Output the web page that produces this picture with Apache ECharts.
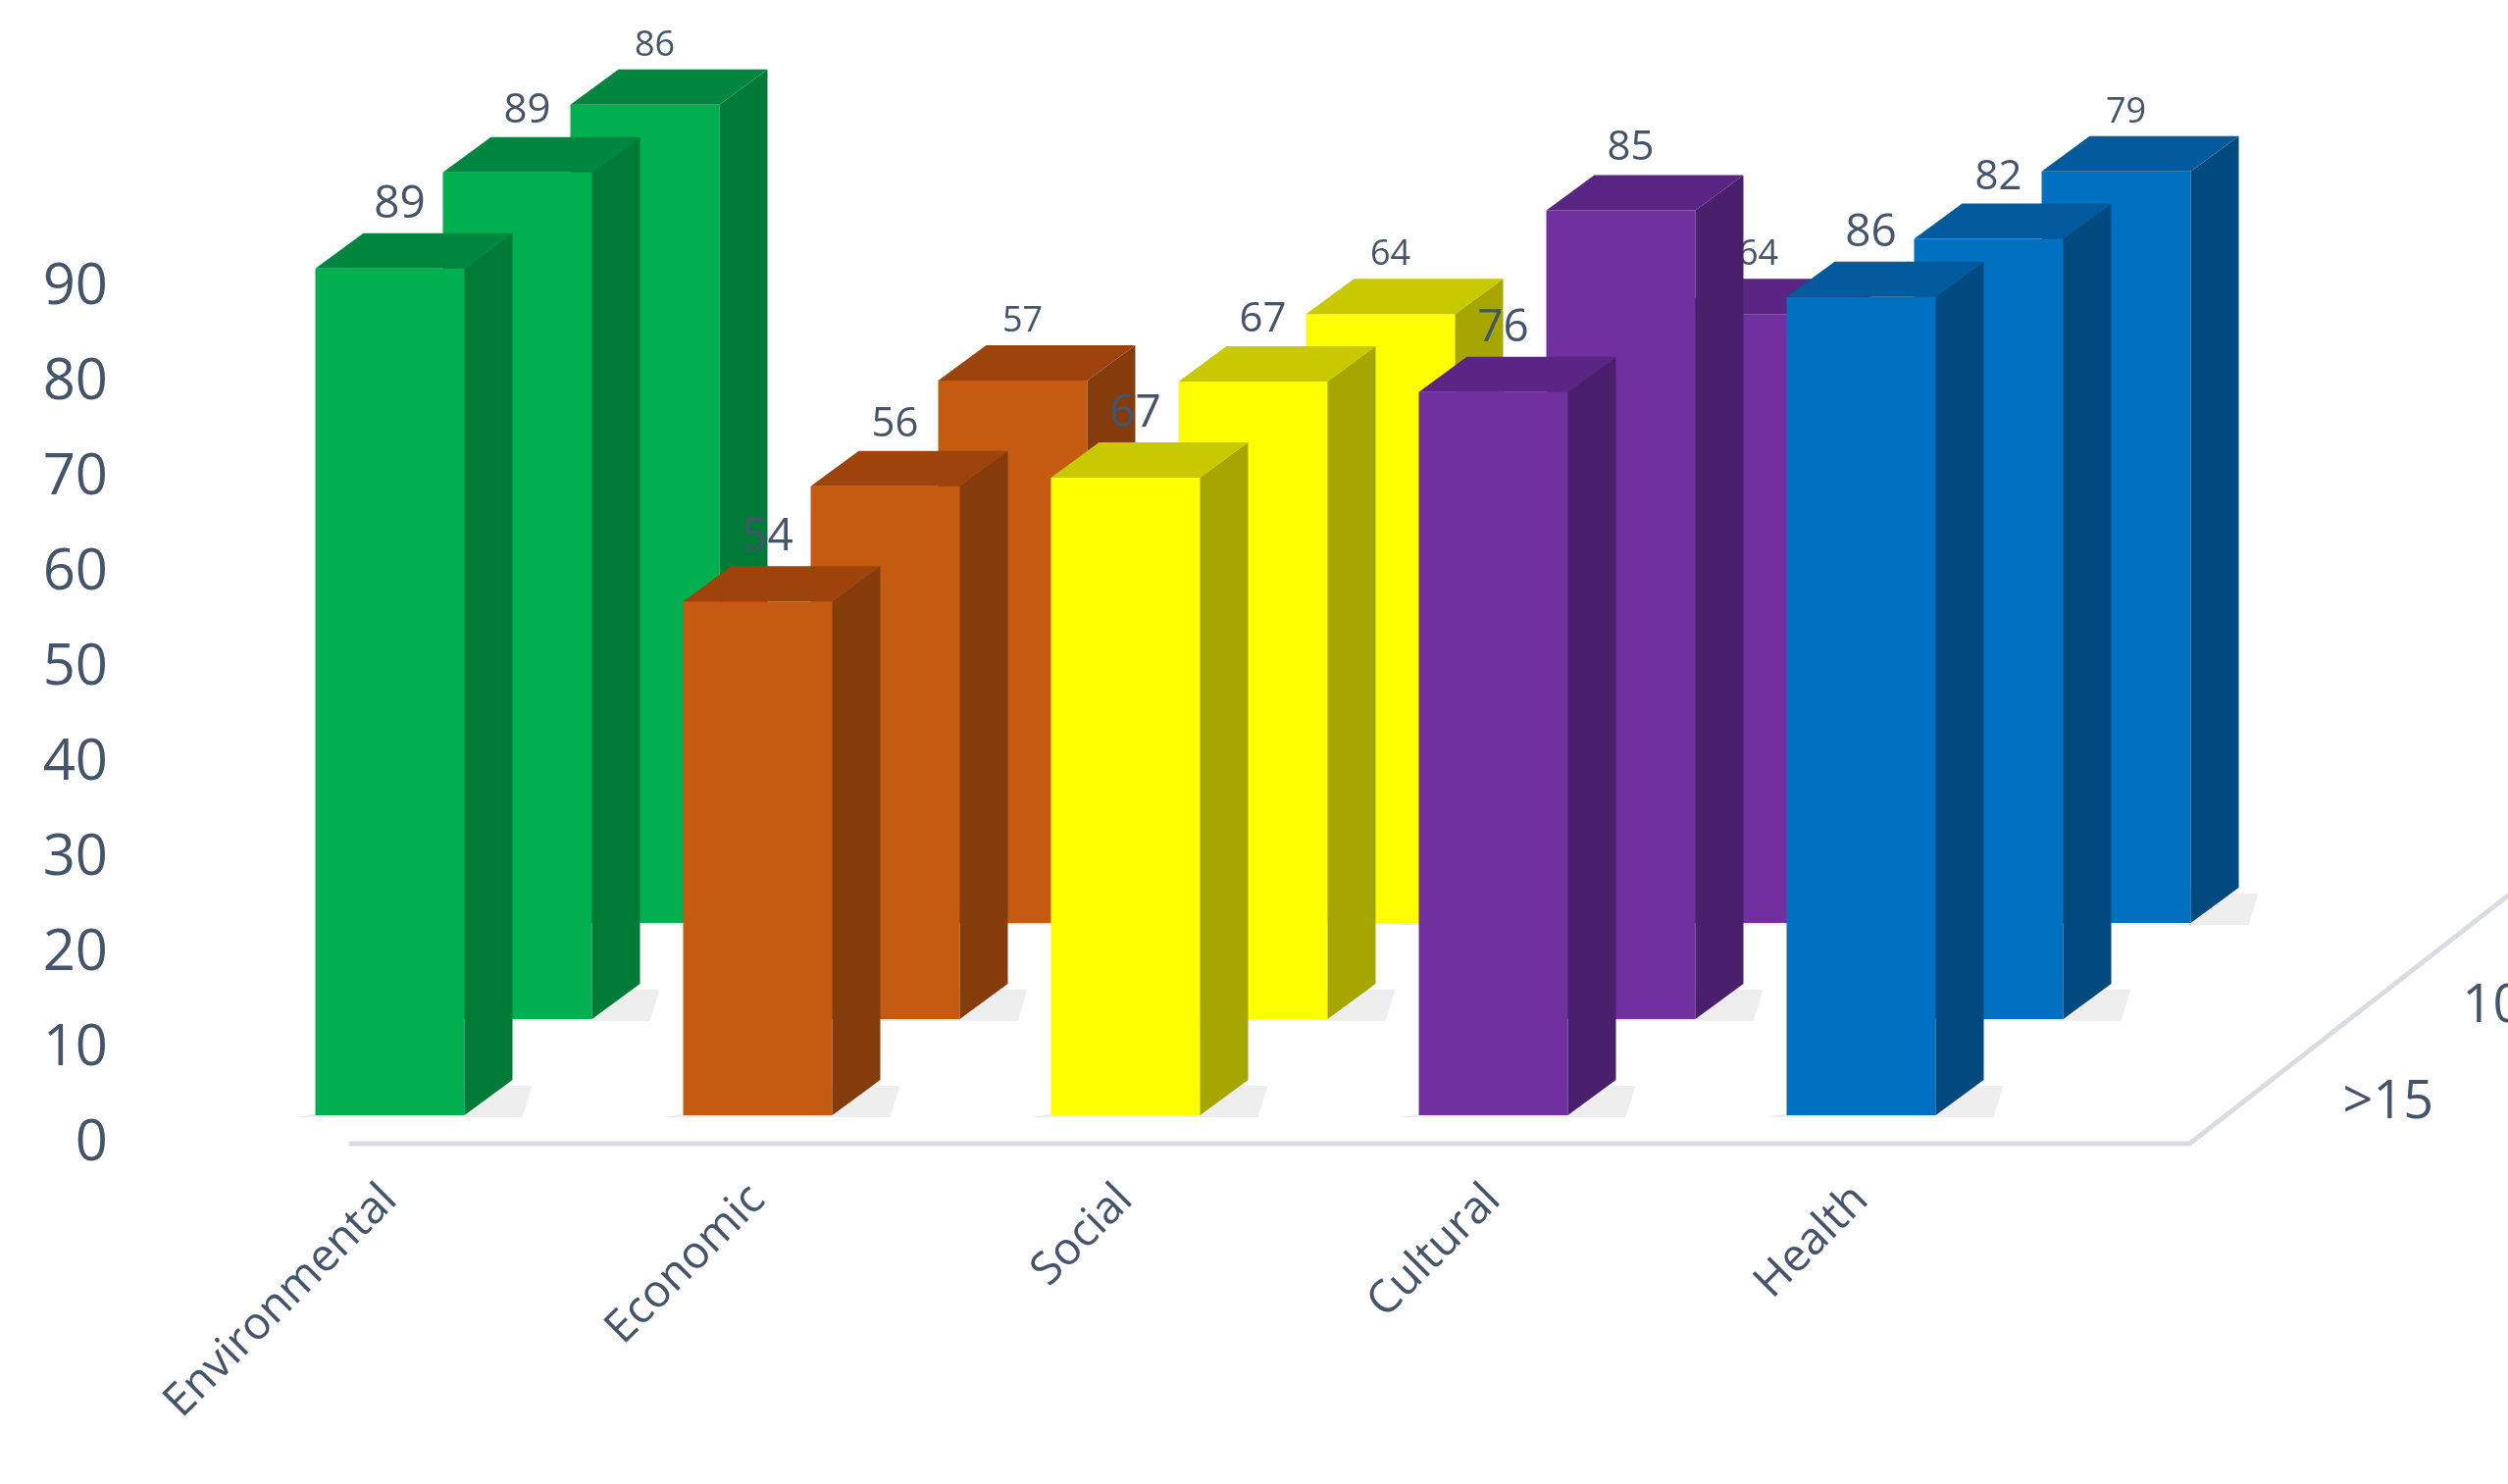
<!DOCTYPE html>
<html>
<head>
<meta charset="utf-8">
<script src="https://cdn.jsdelivr.net/npm/echarts@6/dist/echarts.min.js"></script>
<style>
  html, body { margin: 0; padding: 0; background: #fff; }
  #chart { width: 2557px; height: 1513px; }
</style>
</head>
<body>
<div id="chart"></div>
<script>
// data
var categories = ['Environmental', 'Economic', 'Social', 'Cultural', 'Health'];
var rows = ['>15', '10--15', '<5'];          // front to back
var rowGt15 = [89, 54, 67, 76, 86];
var row10to15 = [89, 56, 67, 85, 82];
var rowLt5 = [86, 57, 64, 64, 79];

// colours per category: front, side, top
var colors = [
    ['#00b050', '#007a37', '#00873f'],
    ['#c55a11', '#843c0c', '#9c440c'],
    ['#ffff00', '#a6a600', '#c9c900'],
    ['#7030a0', '#4a1f6b', '#5a2585'],
    ['#0070c0', '#004a80', '#005a9c']
];
var textColor = '#44546a';

// 3d look
var BW = 152, DX = 49, DY = -36;
var FRONT_DY = -29, ROW_DX = 130, ROW_DY = -98;

function barRenderer(r) {
    return function (params, api) {
        var ci = api.value(0), v = api.value(1);
        var base = api.coord([ci, 0]);
        var top = api.coord([ci, v]);
        var x0 = base[0] - BW / 2 + ROW_DX * r;
        var x1 = x0 + BW;
        var yb = base[1] + FRONT_DY + ROW_DY * r;
        var yt = top[1] + FRONT_DY + ROW_DY * r;
        var c = colors[ci];
        var fs = [46, 42, 36][r];
        return {
            type: 'group',
            children: [
                { type: 'polygon', shape: { points: [[x0 - 20, yb + 2], [x1 + DX + 10, yb + 2], [x1 + DX + 20, yb + DY + 6], [x1, yb + DY + 6]] },
                  style: { fill: '#eeeeee' } },
                { type: 'rect', shape: { x: x0, y: yt, width: BW, height: yb - yt }, style: { fill: c[0] } },
                { type: 'polygon', shape: { points: [[x1, yt], [x1 + DX, yt + DY], [x1 + DX, yb + DY], [x1, yb]] }, style: { fill: c[1] } },
                { type: 'polygon', shape: { points: [[x0, yt], [x0 + DX, yt + DY], [x1 + DX, yt + DY], [x1, yt]] }, style: { fill: c[2] } },
                { type: 'text', x: x0 + BW / 2 + 10, y: yt + DY - 6,
                  style: { text: String(v), fill: textColor, font: fs + 'px "Open Sans", sans-serif', align: 'center', verticalAlign: 'bottom' } }
            ]
        };
    };
}

function seriesData(arr) {
    return arr.map(function (v, i) { return [i, v]; });
}

var chart = echarts.init(document.getElementById('chart'));

var option = {
    backgroundColor: '#fff',
    animation: false,
    grid: { left: 210, right: 472, top: 196, bottom: 347 },
    xAxis: {
        type: 'category',
        data: categories,
        axisTick: { show: false },
        axisLine: { show: false },
        axisLabel: { rotate: 45, margin: 50, fontSize: 46, color: textColor, fontFamily: 'Open Sans' }
    },
    yAxis: {
        type: 'value',
        min: 0, max: 100, interval: 10,
        splitLine: { show: false },
        axisLine: { show: false },
        axisLabel: {
            fontSize: 58, color: textColor, margin: 100, fontFamily: 'Open Sans',
            formatter: function (v) { return v > 90 ? '' : v; }
        }
    },
    series: [
        {
            // floor and depth labels
            type: 'custom',
            data: [[4.5, 0]],
            z: 1,
            renderItem: function (params, api) {
                var left = api.coord([-0.5, 0]);
                var right = api.coord([4.5, 0]);
                var lx = left[0] - 42, rx = right[0] - 40, y = right[1];
                var children = [
                    { type: 'polyline', shape: { points: [[lx, y], [rx, y], [rx + 367, y - 286]] },
                      style: { stroke: '#d9dde3', lineWidth: 5, fill: null } }
                ];
                rows.forEach(function (name, r) {
                    children.push({ type: 'text', x: rx + 156 + 122 * r, y: y - 41 - 98 * r,
                        style: { text: name, fill: textColor, font: '54px "Open Sans", sans-serif', align: 'left', verticalAlign: 'middle' } });
                });
                return { type: 'group', children: children };
            }
        },
        { type: 'custom', name: '<5', data: seriesData(rowLt5), renderItem: barRenderer(2), z: 2 },
        { type: 'custom', name: '10--15', data: seriesData(row10to15), renderItem: barRenderer(1), z: 3 },
        { type: 'custom', name: '>15', data: seriesData(rowGt15), renderItem: barRenderer(0), z: 4 }
    ]
};
chart.setOption(option);
</script>
</body>
</html>
